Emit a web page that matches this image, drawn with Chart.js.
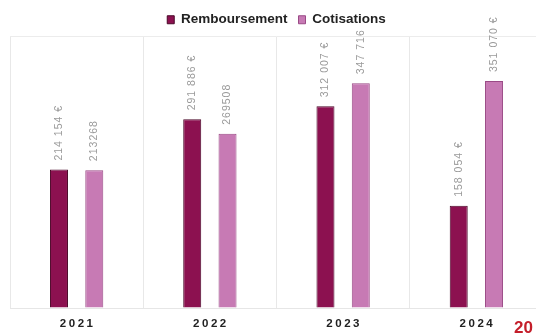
<!DOCTYPE html>
<html>
<head>
<meta charset="utf-8">
<script src="https://cdn.jsdelivr.net/npm/chart.js@4"></script>
<style>
html,body{margin:0;padding:0;background:#fff;overflow:hidden;width:536px;height:335px;}
#wrap{position:relative;width:536px;height:335px;overflow:hidden;}
canvas{position:absolute;left:0;top:0;}
#corner{position:absolute;left:514px;top:318px;font:bold 17px "Liberation Sans",Arial,sans-serif;color:#c41e2a;}
</style>
</head>
<body>
<div id="wrap">
<canvas id="c" width="545" height="335"></canvas>
<div id="corner">20</div>
</div>
<script>
const categories = ['2021', '2022', '2023', '2024'];
const remboursement = [214154, 291886, 312007, 158054];
const cotisations = [213268, 269508, 347716, 351070];
const rembLabels = ['214 154 €', '291 886 €', '312 007 €', '158 054 €'];
const cotLabels = ['213268', '269508', '347 716', '351 070 €'];
const seriesNames = ['Remboursement', 'Cotisations'];

const valueLabels = {
  id: 'valueLabels',
  afterDatasetsDraw(chart) {
    const ctx = chart.ctx;
    const sets = [rembLabels, cotLabels];
    chart.data.datasets.forEach((ds, di) => {
      const meta = chart.getDatasetMeta(di);
      meta.data.forEach((bar, i) => {
        ctx.save();
        ctx.translate(bar.x, bar.y - 9);
        ctx.rotate(-Math.PI / 2);
        ctx.font = '10.5px "Liberation Sans", Arial, sans-serif';
        ctx.letterSpacing = '1px';
        ctx.fillStyle = '#9a9a9a';
        ctx.textAlign = 'left';
        ctx.textBaseline = 'middle';
        ctx.fillText(sets[di][i], 0, 0);
        ctx.restore();
      });
    });
  }
};

const xLabels = {
  id: 'xLabels',
  afterDraw(chart) {
    const ctx = chart.ctx;
    const xs = chart.scales.x;
    ctx.save();
    ctx.font = 'bold 11.5px "Liberation Sans", Arial, sans-serif';
    ctx.letterSpacing = '2.5px';
    ctx.fillStyle = '#222';
    ctx.textAlign = 'center';
    ctx.textBaseline = 'middle';
    categories.forEach((c, i) => {
      ctx.fillText(c, xs.getPixelForValue(i) + 1, chart.chartArea.bottom + 16);
    });
    ctx.restore();
  }
};

new Chart(document.getElementById('c'), {
  type: 'bar',
  data: {
    labels: categories,
    datasets: [
      {
        label: seriesNames[0],
        data: remboursement,
        backgroundColor: '#8c1150',
        borderColor: '#4a0828',
        borderWidth: 1,
        categoryPercentage: 0.53,
        barPercentage: 0.51
      },
      {
        label: seriesNames[1],
        data: cotisations,
        backgroundColor: '#c77ab4',
        borderColor: '#9a4a86',
        borderWidth: 1,
        categoryPercentage: 0.53,
        barPercentage: 0.51
      }
    ]
  },
  options: {
    responsive: false,
    animation: false,
    layout: { padding: { left: 10, right: 2, top: 2, bottom: 27 } },
    plugins: {
      legend: {
        display: true,
        position: 'top',
        labels: {
          boxWidth: 7,
          boxHeight: 8,
          padding: 11,
          color: '#222',
          font: { family: '"Liberation Sans Narrow", "Liberation Sans", Arial, sans-serif', size: 13.5, weight: 'bold' }
        }
      },
      tooltip: { enabled: false }
    },
    scales: {
      x: {
        grid: { display: true, offset: true, color: '#e8e8e8', drawTicks: false },
        border: { display: true, color: '#e6e6e6' },
        ticks: { display: false }
      },
      y: {
        min: 0,
        max: 420000,
        ticks: { display: false, stepSize: 420000 },
        grid: {
          drawTicks: false,
          color: (c) => (c.tick && c.tick.value === 420000 ? '#ececec' : 'rgba(0,0,0,0)')
        },
        border: { display: false }
      }
    }
  },
  plugins: [valueLabels, xLabels]
});
</script>
</body>
</html>
